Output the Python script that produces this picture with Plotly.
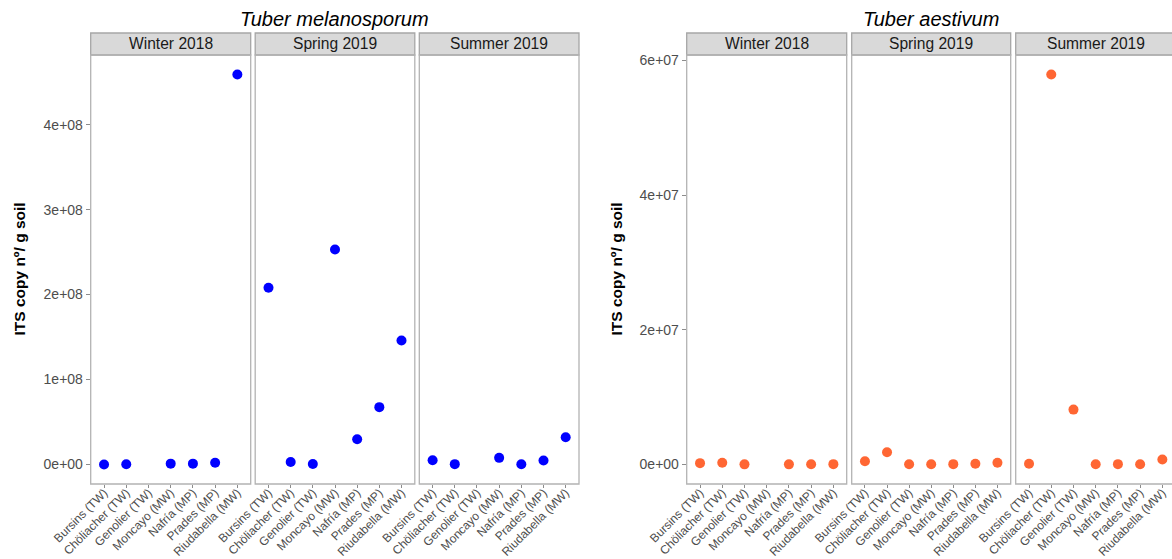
import plotly.graph_objects as go

W, H = 1172, 559

sites = ["Bursins (TW)", "Chöliacher (TW)", "Genolier (TW)", "Moncayo (MW)",
         "Nafría (MP)", "Prades (MP)", "Riudabella (MW)"]
seasons = ["Winter 2018", "Spring 2019", "Summer 2019"]

# ITS copies per g soil, Tuber melanosporum
mel_winter = [1.0e5, 2.0e5, None, 1.0e6, 1.0e6, 2.0e6, 4.59e8]
mel_spring = [2.08e8, 3.0e6, 5.0e5, 2.53e8, 2.98e7, 6.75e7, 1.46e8]
mel_summer = [5.1e6, 4.0e5, None, 7.8e6, 3.0e5, 4.7e6, 3.2e7]

# ITS copies per g soil, Tuber aestivum
aes_winter = [2.0e5, 2.5e5, 2.0e4, None, 2.0e4, 3.0e4, 5.0e4]
aes_spring = [4.9e5, 1.82e6, 3.0e4, 3.0e4, 5.0e4, 1.0e5, 2.5e5]
aes_summer = [1.0e5, 5.79e7, 8.15e6, 3.0e4, 5.0e4, 3.0e4, 7.4e5]

mel_ticks = [0, 1e8, 2e8, 3e8, 4e8]
mel_ticklabels = ["0e+00", "1e+08", "2e+08", "3e+08", "4e+08"]
aes_ticks = [0, 2e7, 4e7, 6e7]
aes_ticklabels = ["0e+00", "2e+07", "4e+07", "6e+07"]

FONT = "Liberation Sans, Arial, sans-serif"
BLUE = "#0000FF"
ORANGE = "#FF6633"
GRID_GREY = "#B3B3B3"
TEXT_GREY = "#4D4D4D"

# panel pixel boxes (left, right); plot area top/bottom
panels_px = [(90.7, 250.7), (255.2, 414.8), (419.3, 579.0),
             (686.7, 846.7), (851.7, 1010.7), (1015.7, 1175.7)]
top_px, bot_px = 55.0, 484.0
strip_top_px = 33.0


def fx(px):
    return px / W


def fy(py):
    return 1 - py / H


def padded(values):
    vals = [v for v in values if v is not None]
    lo, hi = min(vals), max(vals)
    pad = 0.05 * (hi - lo)
    return [lo - pad, hi + pad]


mel_range = padded(mel_winter + mel_spring + mel_summer + [0])
aes_range = padded(aes_winter + aes_spring + aes_summer + [0])

groups = [
    (mel_winter, BLUE, mel_range, mel_ticks, mel_ticklabels),
    (mel_spring, BLUE, mel_range, mel_ticks, mel_ticklabels),
    (mel_summer, BLUE, mel_range, mel_ticks, mel_ticklabels),
    (aes_winter, ORANGE, aes_range, aes_ticks, aes_ticklabels),
    (aes_spring, ORANGE, aes_range, aes_ticks, aes_ticklabels),
    (aes_summer, ORANGE, aes_range, aes_ticks, aes_ticklabels),
]

fig = go.Figure()
layout = {}
shapes = []
annotations = []

for i, (vals, color, yr, tv, tt) in enumerate(groups):
    n = i + 1
    xa = "x" if n == 1 else f"x{n}"
    ya = "y" if n == 1 else f"y{n}"
    fig.add_trace(go.Scatter(
        x=sites, y=vals, mode="markers", xaxis=xa, yaxis=ya,
        marker=dict(color=color, size=10, line=dict(width=0)),
        showlegend=False, cliponaxis=False))

    left, right = panels_px[i]
    unit = (right - left) / 7.2
    vis_right = min(right, W)
    x_hi = -0.6 + (vis_right - left) / unit

    xkey = "xaxis" if n == 1 else f"xaxis{n}"
    ykey = "yaxis" if n == 1 else f"yaxis{n}"
    layout[xkey] = dict(
        domain=[fx(left), fx(vis_right)], anchor=ya, type="category",
        categoryorder="array", categoryarray=sites, range=[-0.6, x_hi],
        showgrid=False, zeroline=False, showline=False, automargin=False,
        ticks="outside", ticklen=3, tickcolor="#8C8C8C", tickwidth=1,
        ticklabelstandoff=-7,
        tickangle=-45, tickfont=dict(family=FONT, size=12, color=TEXT_GREY),
        fixedrange=True)
    first_in_chart = i in (0, 3)
    layout[ykey] = dict(
        domain=[fy(bot_px), fy(top_px)], anchor=xa, range=yr,
        tickvals=tv, ticktext=tt, showticklabels=first_in_chart,
        ticks="outside" if first_in_chart else "", ticklen=4,
        tickcolor="#8C8C8C", tickwidth=1, automargin=False,
        tickfont=dict(family=FONT, size=14, color=TEXT_GREY),
        showgrid=False, zeroline=False, showline=False, fixedrange=True)

    # panel border
    shapes.append(dict(type="rect", xref="paper", yref="paper",
                       x0=fx(left), x1=fx(right), y0=fy(bot_px), y1=fy(top_px),
                       line=dict(color=GRID_GREY, width=1.3),
                       fillcolor="rgba(0,0,0,0)", layer="above"))
    # facet strip
    shapes.append(dict(type="rect", xref="paper", yref="paper",
                       x0=fx(left), x1=fx(right), y0=fy(top_px), y1=fy(strip_top_px),
                       line=dict(color="#A6A6A6", width=1.3),
                       fillcolor="#D9D9D9", layer="below"))
    annotations.append(dict(
        text=seasons[i % 3], xref="paper", yref="paper",
        x=fx((left + right) / 2), y=fy((top_px + strip_top_px) / 2),
        xanchor="center", yanchor="middle", showarrow=False,
        font=dict(family=FONT, size=15.6, color="#1A1A1A")))

# chart titles
for (l, r), title in [((panels_px[0][0], panels_px[2][1]), "Tuber melanosporum"),
                      ((panels_px[3][0], panels_px[5][1]), "Tuber aestivum")]:
    annotations.append(dict(
        text=f"<i>{title}</i>", xref="paper", yref="paper",
        x=fx((l + r) / 2), y=fy(19), xanchor="center", yanchor="middle",
        showarrow=False, font=dict(family=FONT, size=20, color="black")))

# y-axis titles
for xpx in (19, 616):
    annotations.append(dict(
        text="<b>ITS copy nº/ g soil</b>", xref="paper", yref="paper",
        x=fx(xpx), y=fy((top_px + bot_px) / 2), xanchor="center",
        yanchor="middle", textangle=-90, showarrow=False,
        font=dict(family=FONT, size=15.5, color="black")))

fig.update_layout(
    width=W, height=H, margin=dict(l=0, r=0, t=0, b=0),
    paper_bgcolor="white", plot_bgcolor="white",
    shapes=shapes, annotations=annotations, **layout)

fig.write_html("out.html")
